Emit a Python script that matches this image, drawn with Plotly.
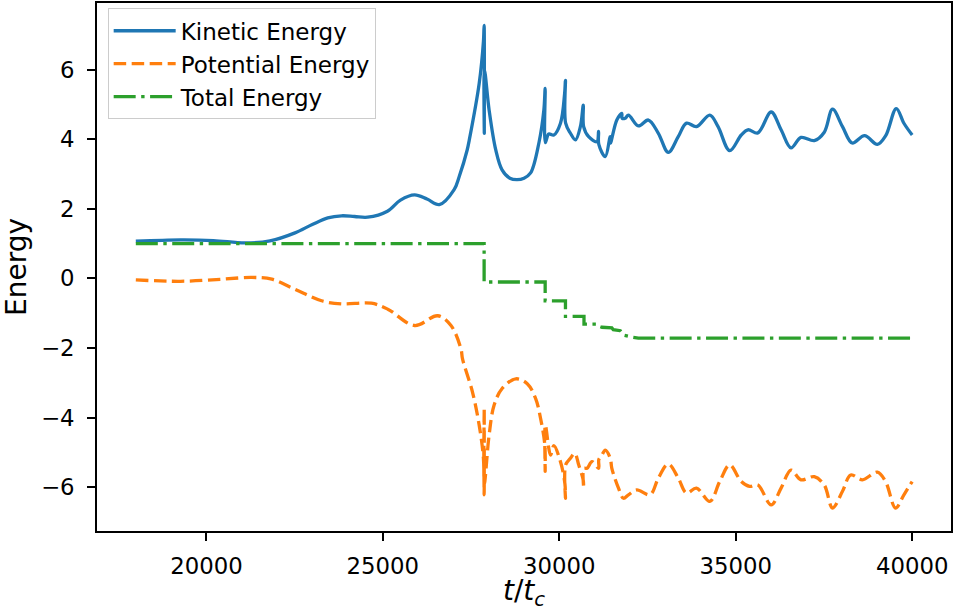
import plotly.graph_objects as go

# ---- data ----
k_t = [18000, 19270, 20200, 21100, 21800, 22510, 23000, 23440, 23830, 24200, 24570,
       25130, 25500, 25900, 26250, 26600, 27020, 27165, 27390, 27450, 27730, 27850,
       27870, 27875, 27880, 28011, 28200, 28378, 28600, 28801, 29000, 29187, 29422,
       29563, 29600, 29605, 29700, 29845, 30034, 30150, 30175, 30180, 30316, 30457,
       30598, 30680, 30690, 30832, 31066, 31114, 31120, 31303, 31440, 31450, 31630,
       31771, 31780, 31867, 31960, 32242, 32525, 32807, 33089, 33371, 33605, 33887,
       34265, 34499, 34829, 35156, 35345, 35627, 36003, 36285, 36567, 36849, 37227,
       37509, 37743, 38025, 38300, 38650, 39013, 39250, 39550, 39770, 40000]
k_val = [1.07, 1.11, 1.09, 1.02, 1.08, 1.31, 1.55, 1.74, 1.80, 1.78, 1.76,
         1.93, 2.25, 2.40, 2.28, 2.12, 2.55, 2.93, 3.69, 3.98, 5.60, 6.80,
         7.27, 4.17, 5.98, 4.84, 3.69, 3.12, 2.88, 2.84, 2.88, 3.03, 3.89,
         4.84, 5.46, 3.90, 4.15, 4.12, 4.46, 5.30, 5.69, 4.46, 4.17, 3.98,
         4.36, 4.98, 4.36, 4.07, 3.93, 4.22, 3.85, 3.50, 4.07, 3.89, 4.55,
         4.74, 4.60, 4.60, 4.69, 4.38, 4.55, 4.17, 3.62, 4.07, 4.46, 4.36,
         4.69, 4.36, 3.67, 4.12, 4.27, 4.18, 4.78, 4.27, 3.75, 4.05, 3.96,
         4.20, 4.86, 4.36, 3.89, 4.10, 3.85, 4.10, 4.88, 4.45, 4.12]

p_t = [18000, 19267, 20443, 21289, 21853, 22510, 23264, 23830, 24674, 25140, 25900,
       26553, 26931, 27213, 27258, 27540, 27730, 27850, 27870, 27873, 27876, 28011,
       28152, 28380, 28770, 29092, 29330, 29470, 29590, 29600, 29605, 29752, 29845,
       30034, 30160, 30175, 30180, 30316, 30440, 30550, 30680, 30691, 30695, 30785,
       30926, 31114, 31120, 31209, 31303, 31444, 31489, 31678, 31819, 31960, 32195,
       32570, 32807, 33089, 33371, 33605, 33887, 34265, 34547, 34829, 35156, 35392,
       35627, 36003, 36285, 36567, 36849, 37227, 37509, 37743, 38025, 38260, 38590,
       39013, 39247, 39529, 39766, 40000]
p_val = [-0.04, -0.08, -0.02, 0.03, -0.02, -0.31, -0.64, -0.73, -0.71, -0.88, -1.35,
         -1.07, -1.35, -2.02, -2.31, -3.26, -4.21, -5.16, -6.21, -3.73, -5.90, -4.50,
         -3.64, -3.16, -2.88, -3.02, -3.45, -4.02, -4.78, -5.54, -4.21, -5.07, -4.80,
         -5.26, -5.90, -6.31, -5.35, -5.16, -5.02, -5.35, -5.80, -6.02, -5.45, -5.45,
         -5.26, -5.45, -5.20, -5.07, -4.93, -5.16, -5.45, -6.02, -6.31, -6.21, -6.07,
         -6.21, -5.73, -5.33, -5.73, -6.16, -6.02, -6.40, -5.83, -5.35, -5.83, -5.97,
         -5.93, -6.50, -6.02, -5.50, -5.78, -5.69, -5.93, -6.59, -6.11, -5.64, -5.78,
         -5.56, -5.83, -6.59, -6.21, -5.83]

e_t = [18000, 27870, 27870, 29600, 29600, 30175, 30175, 30700, 30700, 31080, 31150,
       31210, 31490, 31530, 31730, 31830, 32050, 32240, 40000]
e_val = [1.00, 1.00, -0.10, -0.10, -0.64, -0.64, -1.09, -1.09, -1.31, -1.31, -1.38,
         -1.40, -1.42, -1.47, -1.50, -1.63, -1.68, -1.71, -1.71]

x_ticks = [20000, 25000, 30000, 35000, 40000]
y_ticks = [-6, -4, -2, 0, 2, 4, 6]

FONT = "DejaVu Sans"
LW = 3.3

fig = go.Figure()
fig.add_trace(go.Scatter(x=k_t, y=k_val, mode="lines", name="Kinetic Energy",
                         line=dict(color="#1f77b4", width=LW, shape="spline", smoothing=1.0)))
fig.add_trace(go.Scatter(x=p_t, y=p_val, mode="lines", name="Potential Energy",
                         line=dict(color="#ff7f0e", width=LW, shape="spline", smoothing=1.0,
                                   dash="12.5px,5.5px")))
fig.add_trace(go.Scatter(x=e_t, y=e_val, mode="lines", name="Total Energy",
                         line=dict(color="#2ca02c", width=LW, dash="22px,5.5px,3.4px,5.5px")))

axis_common = dict(showline=True, linecolor="black", linewidth=1.8, mirror=True,
                   ticks="outside", ticklen=8, tickwidth=1.8, tickcolor="black",
                   showgrid=False, zeroline=False,
                   tickfont=dict(family=FONT, size=22.8, color="black"))

fig.update_layout(
    width=954, height=611,
    margin=dict(l=97, r=1, t=3, b=78),
    paper_bgcolor="white", plot_bgcolor="white",
    font=dict(family=FONT, color="black"),
    showlegend=True,
    legend=dict(x=0.0125, y=0.99, xanchor="left", yanchor="top",
                bgcolor="rgba(255,255,255,0.8)", bordercolor="#cccccc", borderwidth=1,
                font=dict(family=FONT, size=23, color="black"), itemwidth=62,
                tracegroupgap=0),
)
fig.update_xaxes(range=[16900, 41100], tickvals=x_ticks, ticktext=[str(v) for v in x_ticks],
                 ticklabelstandoff=6,
                 title=dict(text="<i>t</i>/<i>t</i><sub><i>c</i></sub>",
                            font=dict(family=FONT, size=28), standoff=11),
                 **axis_common)
fig.update_yaxes(range=[-7.25, 7.91], tickvals=y_ticks,
                 ticktext=[("\u2212" + str(-v)) if v < 0 else str(v) for v in y_ticks],
                 ticklabelstandoff=8, automargin=True,
                 title=dict(text="Energy", font=dict(family=FONT, size=28), standoff=10),
                 **axis_common)

fig.write_html("out.html")
